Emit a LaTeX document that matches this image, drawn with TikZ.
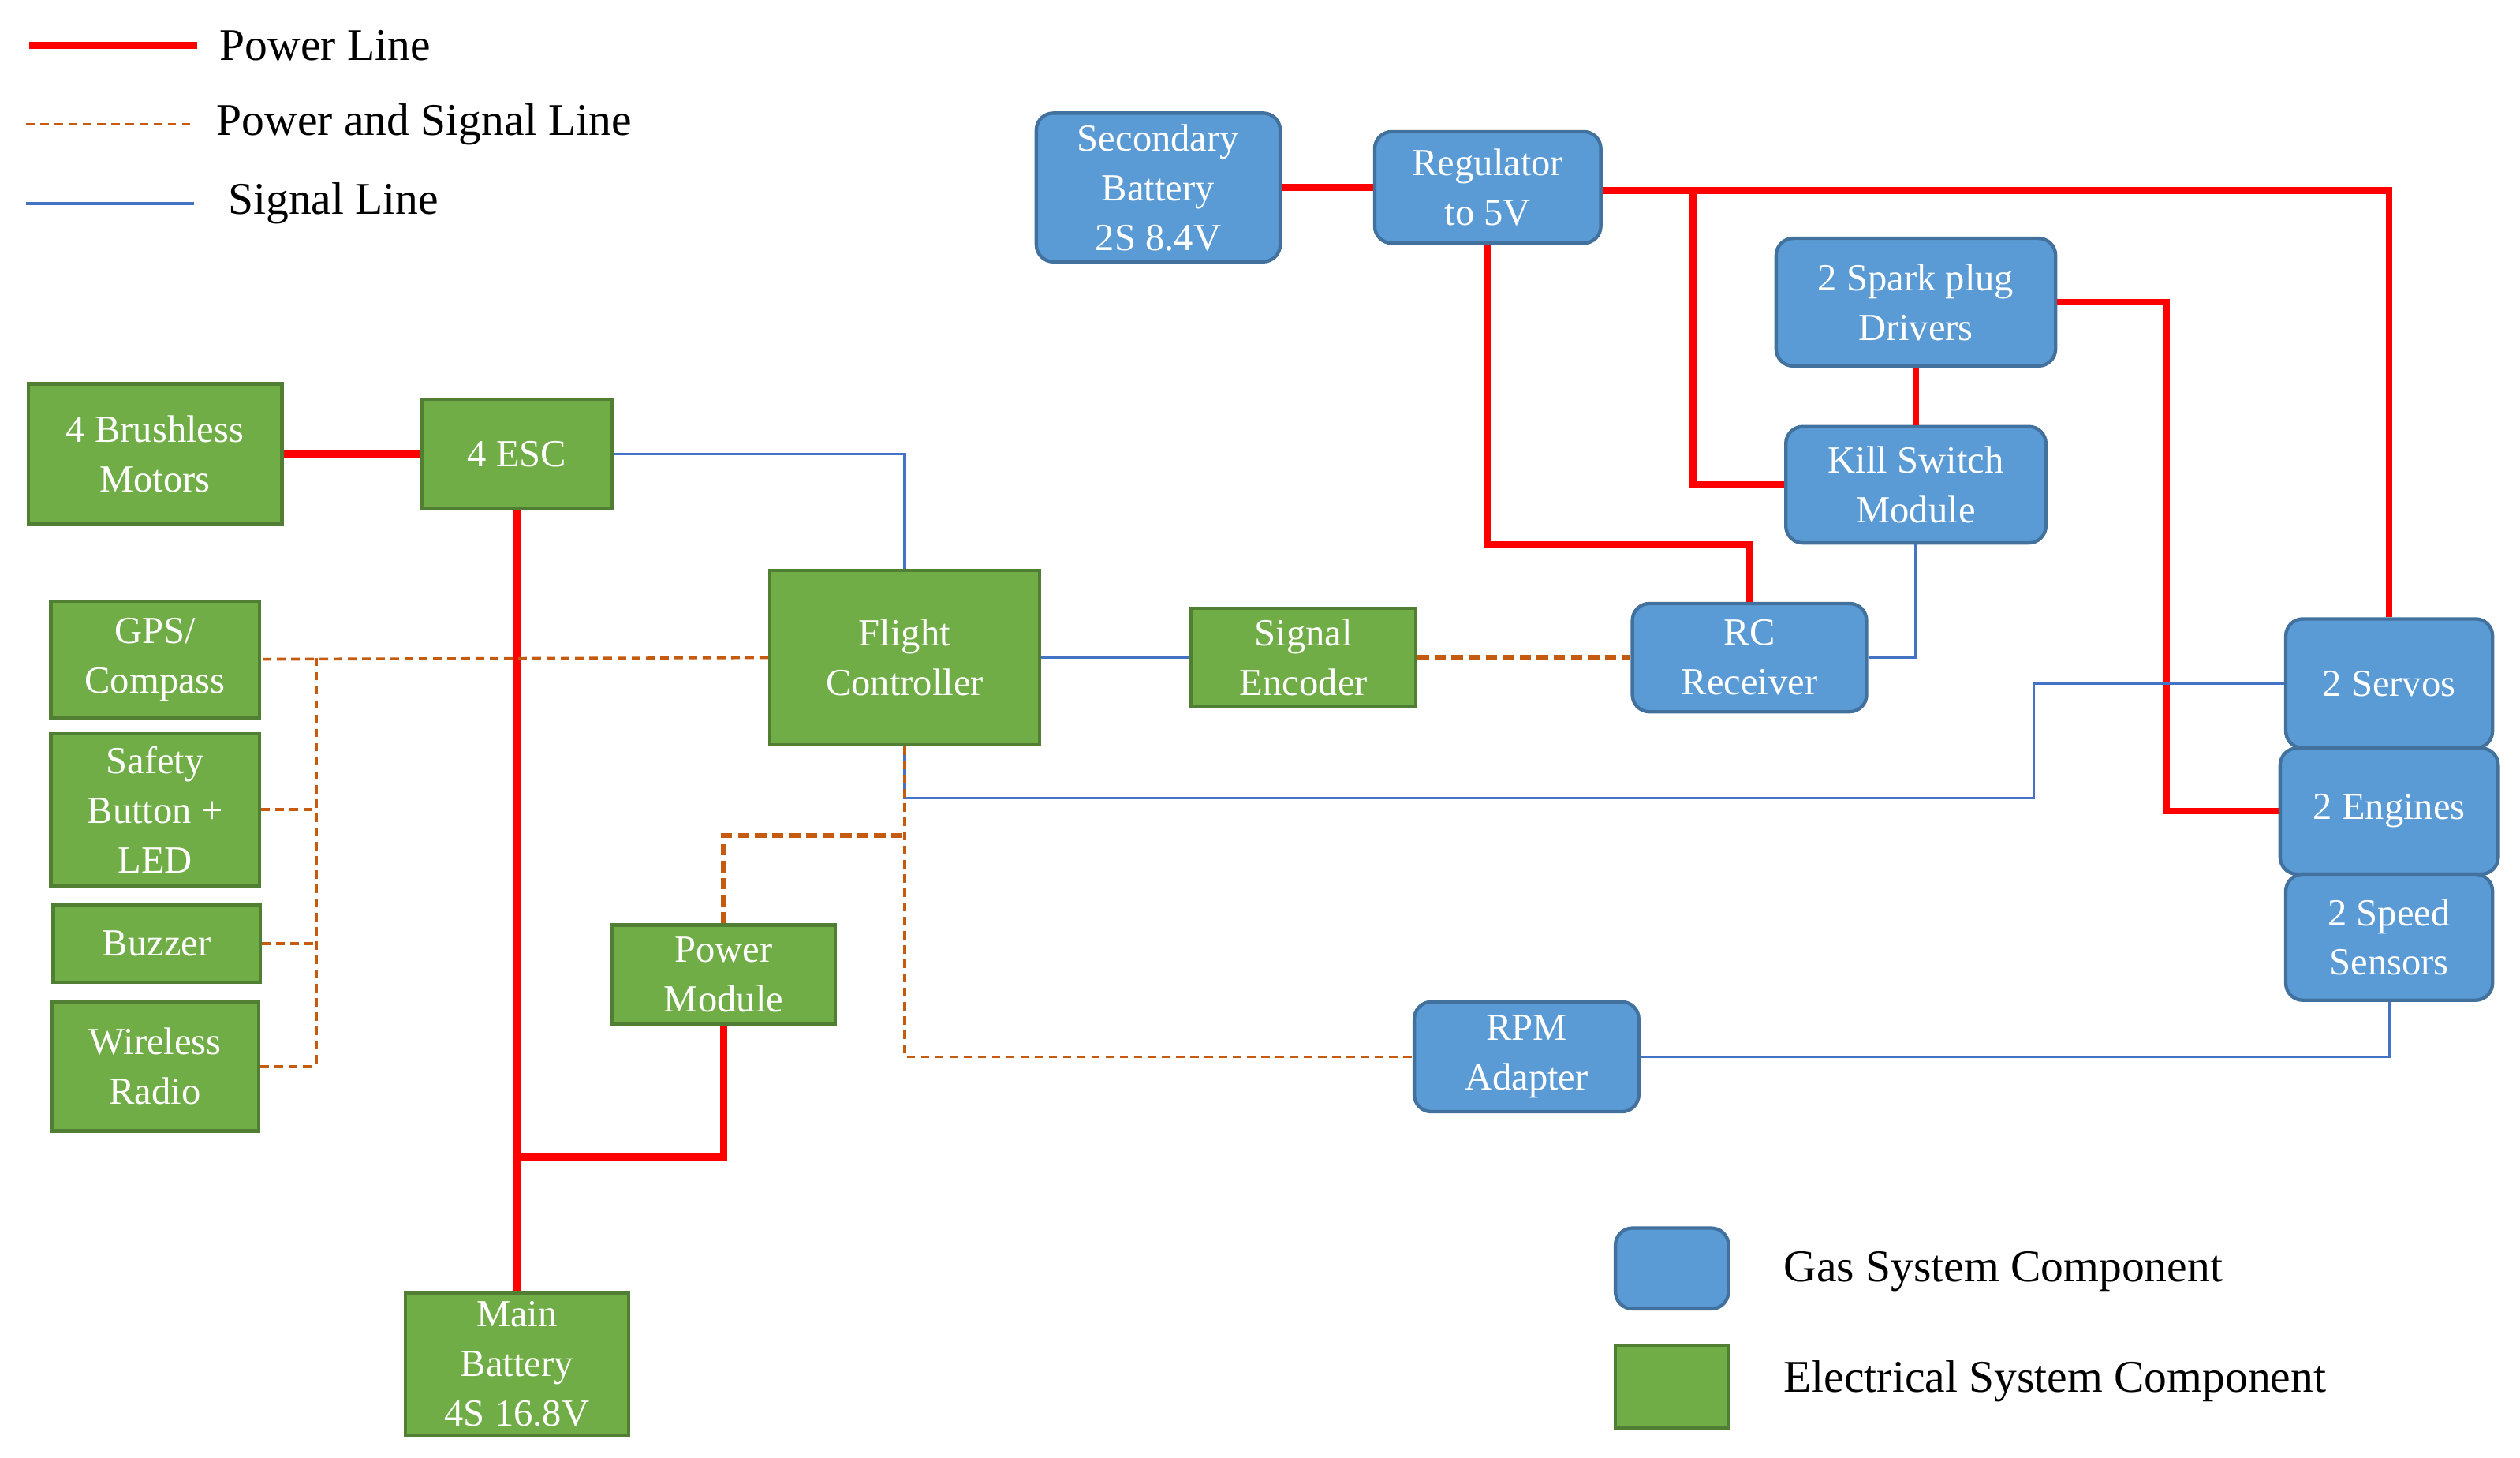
\documentclass[tikz,border=0pt]{standalone}
\usepackage{fontspec}
\setmainfont{Liberation Serif}
\begin{document}
\definecolor{grn}{HTML}{70AD47}\definecolor{grnd}{HTML}{507E32}
\definecolor{blu}{HTML}{5B9BD5}\definecolor{blud}{HTML}{41719C}
\definecolor{sig}{HTML}{4472C4}\definecolor{org}{HTML}{C55A11}
\begin{tikzpicture}[x=0.02cm,y=-0.02cm,
  box/.style={text=white,align=center,inner sep=0pt,line width=1.2pt,font=\fontsize{13.5}{17.5}\selectfont},
  gn/.style={box,fill=grn,draw=grnd},
  bl/.style={box,fill=blu,draw=blud,rounded corners=6pt},
  sz/.style n args={2}{minimum width=#1*0.02cm,minimum height=#2*0.02cm},
  pw/.style={draw=red,line width=2.4pt},
  ps/.style={draw=org,line width=1pt,dash pattern=on 3pt off 2pt},
  pst/.style={draw=org,line width=1.8pt,dash pattern=on 4pt off 2pt},
  sg/.style={draw=sig,line width=0.9pt},
  lg/.style={anchor=west,font=\fontsize{16}{18}\selectfont}]
\useasboundingbox (0,0) rectangle (1560,902);
% legend
\coordinate (r1) at (18,28); \coordinate (r2) at (122,28);
\coordinate (o1) at (16,77); \coordinate (o2) at (118,77);
\coordinate (s1) at (16,126); \coordinate (s2) at (120,126);
\draw[pw] (r1)--(r2); \draw[ps] (o1)--(o2); \draw[sg] (s1)--(s2);
\node[lg] (lt1) at (130,28) {Power Line};
\node[lg] (lt2) at (128,77) {Power and Signal Line};
\node[lg] (lt3) at (135,126) {Signal Line};
\node[bl,sz={70}{50}] (lb) at (1035,785) {};
\node[gn,sz={70}{51},rounded corners=0pt] (lgbox) at (1035,858) {};
\node[lg] (lbt) at (1098,787) {Gas System Component};
\node[lg] (lgt) at (1098,855) {Electrical System Component};
% green nodes
\node[gn,sz={157}{87}] (mot) at (96,281) {4 Brushless\\Motors};
\node[gn,sz={118}{68}] (esc) at (320,281) {4 ESC};
\node[gn,sz={129}{72}] (gps) at (96,408) {GPS/\\Compass};
\node[gn,sz={129}{94}] (saf) at (96,501) {Safety\\Button +\\LED};
\node[gn,sz={128}{48}] (buz) at (97,584) {Buzzer};
\node[gn,sz={128}{80}] (wir) at (96,660) {Wireless\\Radio};
\node[gn,sz={167}{108}] (fc) at (560,407) {Flight\\Controller};
\node[gn,sz={139}{61}] (enc) at (807,407) {Signal\\Encoder};
\node[gn,sz={138}{61}] (pm) at (448,603) {Power\\Module};
\node[gn,sz={138}{88}] (mb) at (320,844) {Main\\Battery\\4S 16.8V};
% blue nodes
\node[bl,sz={151}{92}] (sb) at (717,116) {Secondary\\Battery\\2S 8.4V};
\node[bl,sz={140}{69}] (reg) at (921,116) {Regulator\\to 5V};
\node[bl,sz={173}{79}] (spk) at (1186,187) {2 Spark plug\\Drivers};
\node[bl,sz={161}{72}] (kil) at (1186,300) {Kill Switch\\Module};
\node[bl,sz={145}{67}] (rc) at (1083,407) {RC\\Receiver};
\node[bl,sz={128}{80}] (srv) at (1479,423) {2 Servos};
\node[bl,sz={135}{78}] (eng) at (1479,502) {2 Engines};
\node[bl,sz={128}{78}] (spd) at (1479,580) {2 Speed\\Sensors};
\node[bl,sz={139}{68}] (rpm) at (945,654) {RPM\\Adapter};
% power lines
\draw[pw] (mot.east)--(esc.west);
\draw[pw] (esc.south)--(mb.north);
\coordinate (pj) at (320,716);
\draw[pw] (pm.south)|-(pj);
\draw[pw] (sb.east)--(reg.west);
\draw[pw] (reg.east |- 0,118)-|(srv.north);
\coordinate (kj) at (1048,118);
\draw[pw] (kj)|-(kil.west);
\coordinate (rj) at (921,337);
\draw[pw] (reg.south)--(rj)-|(rc.north);
\draw[pw] (spk.south)--(kil.north);
\coordinate (ej) at (1341,187);
\draw[pw] (spk.east |- ej)--(ej)|-(eng.west);
% signal lines
\draw[sg] (esc.east)-|(fc.north);
\draw[sg] (fc.east)--(enc.west);
\draw[sg] (kil.south)|-(rc.east);
\coordinate (f1) at (560,494); \coordinate (f2) at (1259,494);
\draw[sg] (fc.south)--(f1)--(f2)|-(srv.west);
\draw[sg] (rpm.east)-|(spd.south);
% power & signal
\draw[pst] (enc.east)--(rc.west);
\draw[ps] (fc.west)--(gps.east);
\coordinate (b0) at (196,407); \coordinate (b1) at (196,660);
\draw[ps] (b0)--(b1);
\draw[ps] (saf.east)--(saf.east -| b0);
\draw[ps] (buz.east)--(buz.east -| b0);
\draw[ps] (wir.east)--(b1);
\coordinate (pmj) at (560,517);
\draw[pst] (pm.north)|-(pmj);
\draw[ps] (fc.south)|-(rpm.west);
\end{tikzpicture}
\end{document}
